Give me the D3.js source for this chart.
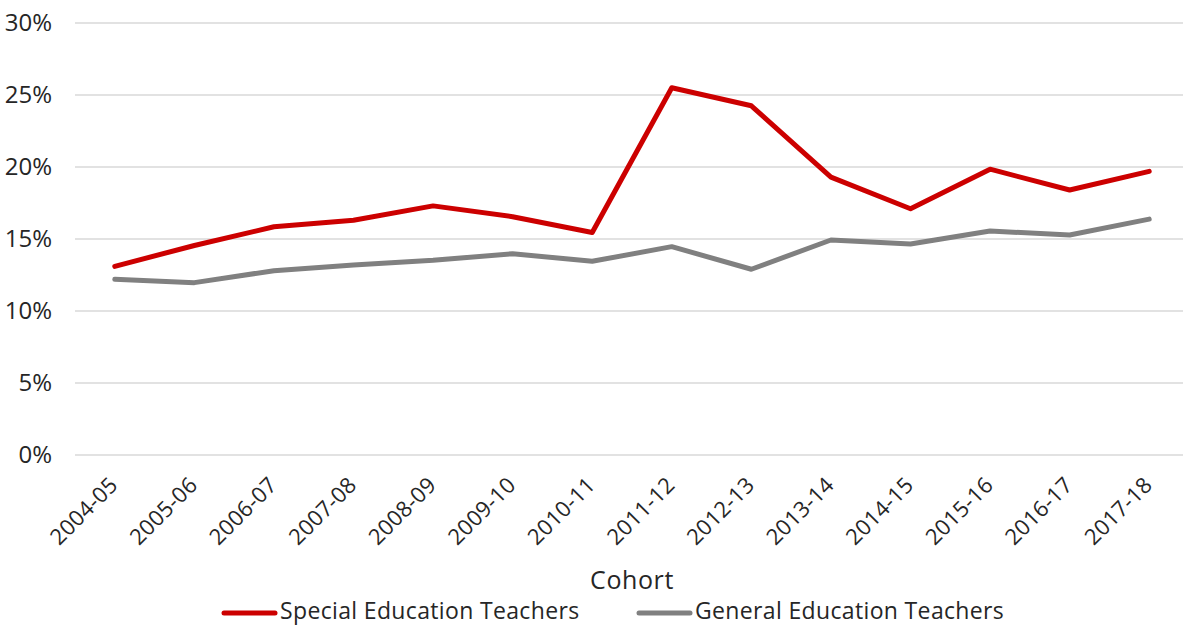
<!DOCTYPE html>
<html>
<head>
<meta charset="utf-8">
<script src="https://cdn.jsdelivr.net/npm/d3@7"></script>
<style>
  html, body { margin: 0; padding: 0; background: #fff; }
  svg { display: block; font-family: "Open Sans", Lato, sans-serif; }
</style>
</head>
<body>
<svg id="chart" width="1183" height="626"></svg>
<script>
const cohorts = ["2004-05","2005-06","2006-07","2007-08","2008-09","2009-10","2010-11","2011-12","2012-13","2013-14","2014-15","2015-16","2016-17","2017-18"];
const specialEd = [13.1, 14.55, 15.85, 16.3, 17.3, 16.55, 15.45, 25.5, 24.25, 19.3, 17.1, 19.85, 18.4, 19.7];
const generalEd = [12.2, 11.97, 12.8, 13.2, 13.52, 13.98, 13.45, 14.47, 12.9, 14.93, 14.65, 15.55, 15.28, 16.38];
const yTicks = [0, 5, 10, 15, 20, 25, 30];
const seriesNames = ["Special Education Teachers", "General Education Teachers"];
const seriesColors = ["#cc0000", "#808080"];

const svg = d3.select("#chart");
const mLeft = 75, mRight = 1189, mTop = 23, mBottom = 455;
const textColor = "#262626";

const x = d3.scalePoint().domain(cohorts).range([mLeft, mRight]).padding(0.5);
const y = d3.scaleLinear().domain([0, 30]).range([mBottom, mTop]);

// gridlines
svg.append("g").selectAll("line").data(yTicks).join("line")
  .attr("x1", mLeft).attr("x2", mRight)
  .attr("y1", d => y(d)).attr("y2", d => y(d))
  .attr("stroke", "#d9d9d9").attr("stroke-width", 1.5);

// y labels
svg.append("g").selectAll("text").data(yTicks).join("text")
  .attr("x", 52).attr("y", d => y(d)).attr("dy", "0.35em")
  .attr("text-anchor", "end").attr("fill", textColor).attr("font-size", 24)
  .text(d => d + "%");

// x labels
svg.append("g").selectAll("text").data(cohorts).join("text")
  .attr("transform", d => `translate(${x(d) - 1},${481}) rotate(-45)`)
  .attr("text-anchor", "end").attr("dy", "0.35em")
  .attr("fill", textColor).attr("font-size", 22).attr("letter-spacing", 0.3)
  .text(d => d);

// axis title
svg.append("text").attr("x", 632).attr("y", 589).attr("text-anchor", "middle")
  .attr("fill", textColor).attr("font-size", 25).attr("letter-spacing", 0.6).text("Cohort");

const line = d3.line().x((d, i) => x(cohorts[i])).y(d => y(d));
[specialEd, generalEd].forEach((s, k) => {
  svg.append("path").datum(s).attr("d", line)
    .attr("fill", "none").attr("stroke", seriesColors[k])
    .attr("stroke-width", 5).attr("stroke-linejoin", "round").attr("stroke-linecap", "round");
});

// legend
const legendX = [222, 637];
seriesNames.forEach((name, k) => {
  const g = svg.append("g").attr("transform", `translate(${legendX[k]},611)`);
  g.append("line").attr("x1", 2).attr("x2", 53).attr("y1", 2).attr("y2", 2)
    .attr("stroke", seriesColors[k]).attr("stroke-width", 5).attr("stroke-linecap", "round");
  g.append("text").attr("x", 58).attr("y", 0).attr("dy", "0.35em")
    .attr("fill", textColor).attr("font-size", 23).attr("letter-spacing", 0.35).text(name);
});
</script>
</body>
</html>
